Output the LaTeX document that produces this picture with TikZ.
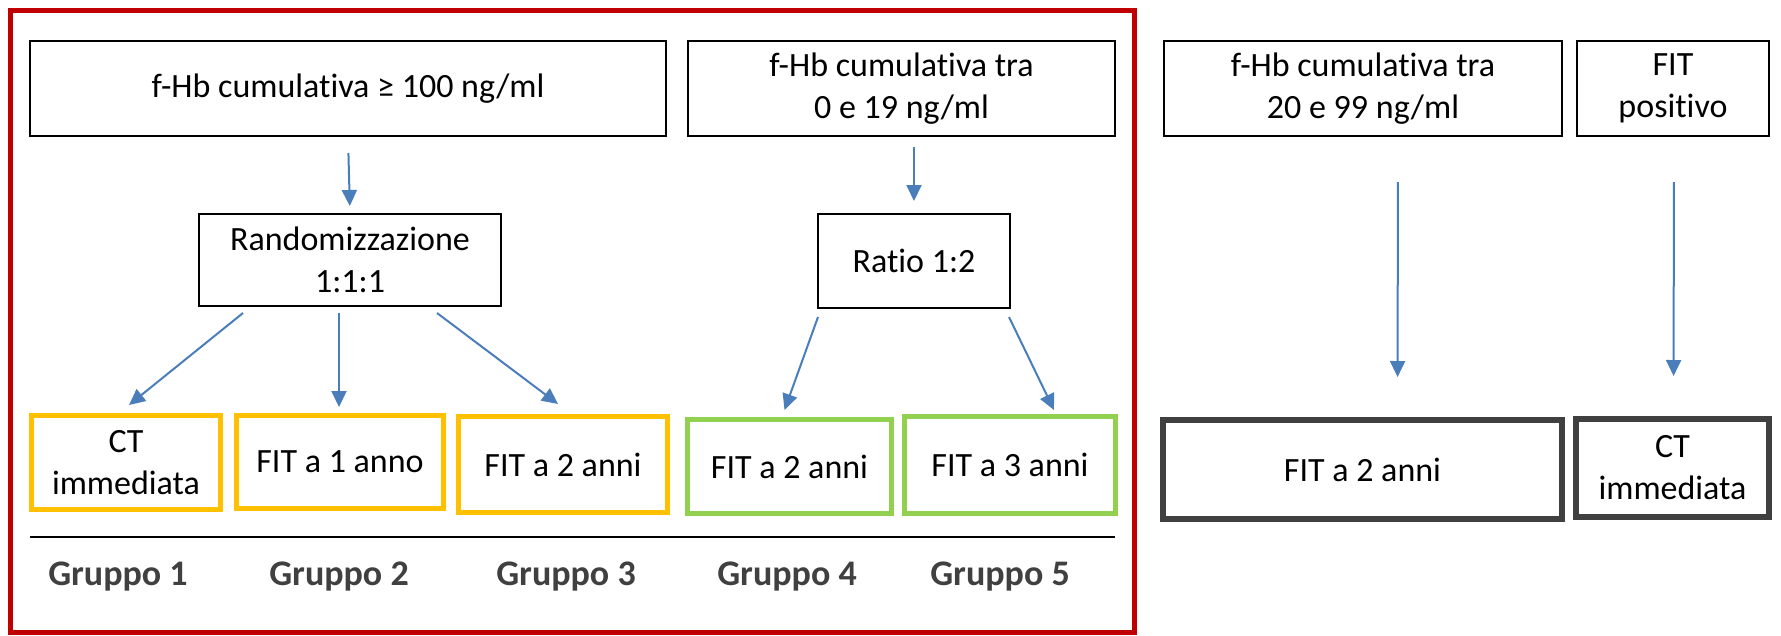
\documentclass[tikz,border=0pt]{standalone}
\usepackage{fontspec}
\setmainfont{Carlito}[Ligatures=NoCommon]
\usetikzlibrary{arrows.meta,calc}
\definecolor{framered}{HTML}{C00000}
\definecolor{boxorange}{HTML}{FFC000}
\definecolor{boxgreen}{HTML}{92D050}
\definecolor{boxdark}{HTML}{404040}
\definecolor{arrowblue}{HTML}{4A7EBB}
\definecolor{labelgray}{HTML}{404040}
\begin{document}
\begin{tikzpicture}[x=1pt,y=-1pt,
  font=\fontsize{34}{42}\selectfont,
  every node/.style={inner sep=0pt, align=center},
  plainbox/.style={draw=black, line width=2pt},
  orangebox/.style={draw=boxorange, line width=5pt},
  greenbox/.style={draw=boxgreen, line width=5pt},
  darkbox/.style={draw=boxdark, line width=6pt},
  arr/.style={draw=arrowblue, line width=2pt, -{Triangle[length=16pt,width=15pt]}},
  grouplabel/.style={font=\fontsize{36}{42}\selectfont\bfseries, text=labelgray}
]
\useasboundingbox (0,0) rectangle (1781,635);
\fill[white] (0,0) rectangle (1781,635);
% red frame
\draw[framered, line width=5pt] (10.5,10) rectangle (1134,632);

% top boxes
\node[plainbox, minimum width=636pt, minimum height=95pt] (A) at (348,88.5) {f-Hb cumulativa ≥ 100 ng/ml};
\node[plainbox, minimum width=427pt, minimum height=95pt] (B) at (901.5,88.5) {f-Hb cumulativa tra\\0 e 19 ng/ml};
\node[plainbox, minimum width=398pt, minimum height=95pt] (C) at (1363,88.5) {f-Hb cumulativa tra\\20 e 99 ng/ml};
\node[plainbox, minimum width=192pt, minimum height=95pt] (D) at (1673,88.5) {FIT\\positivo};

% middle boxes
\node[plainbox, minimum width=302pt, minimum height=92pt] (R) at (350,260) {Randomizzazione\\1:1:1};
\node[plainbox, minimum width=192pt, minimum height=94pt] (Q) at (914,261) {Ratio 1:2};

% bottom boxes
\node[orangebox, minimum width=189pt, minimum height=94pt] (G1) at (126,462.5) {CT\\immediata};
\node[orangebox, minimum width=207pt, minimum height=93pt] (G2) at (340,462) {FIT a 1 anno};
\node[orangebox, minimum width=209pt, minimum height=96pt] (G3) at (563,464.5) {FIT a 2 anni};
\node[greenbox, minimum width=204pt, minimum height=94pt] (G4) at (789.5,466.5) {FIT a 2 anni};
\node[greenbox, minimum width=211pt, minimum height=97pt] (G5) at (1010,465) {FIT a 3 anni};
\node[darkbox, minimum width=399pt, minimum height=99pt] (E) at (1362.5,469.5) {FIT a 2 anni};
\node[darkbox, minimum width=193pt, minimum height=98pt] (F) at (1672.5,468) {CT\\immediata};

% arrows
\draw[arr, shorten <=16pt, shorten >=7pt] (A.south) -- (R.north);
\draw[arr, shorten <=10pt, shorten >=12pt] (Q.north |- B.south) -- (Q.north);
\draw[arr] ($(R.south west)+(45,6)$) -- ($(G1.north)+(3,-8)$);
\draw[arr] ($(R.south)+(-11,6)$) -- ($(G2.north)+(-1,-6)$);
\draw[arr] ($(R.south east)+(-65,6)$) -- ($(G3.north)+(-5,-10)$);
\draw[arr] ($(Q.south west)+(1,8)$) -- ($(G4.north)+(-5,-7)$);
\draw[arr] ($(Q.south east)+(-2,8)$) -- ($(G5.north)+(44,-4)$);
\draw[arr, shorten <=45pt, shorten >=40pt] ([xshift=35pt]C.south) -- ([xshift=35pt]E.north);
\draw[arr, shorten <=45pt, shorten >=40pt] ([xshift=1pt]D.south) -- ([xshift=1pt]F.north);

% separator line
\coordinate (L1) at (30,537);
\coordinate (L2) at (1115,537);
\draw[black, line width=2pt] (L1) -- (L2);

% group labels
\node[grouplabel] (T1) at (118,577) {Gruppo 1};
\node[grouplabel] (T2) at (339,577) {Gruppo 2};
\node[grouplabel] (T3) at (566,577) {Gruppo 3};
\node[grouplabel] (T4) at (787,577) {Gruppo 4};
\node[grouplabel] (T5) at (1000,577) {Gruppo 5};
\end{tikzpicture}
\end{document}
